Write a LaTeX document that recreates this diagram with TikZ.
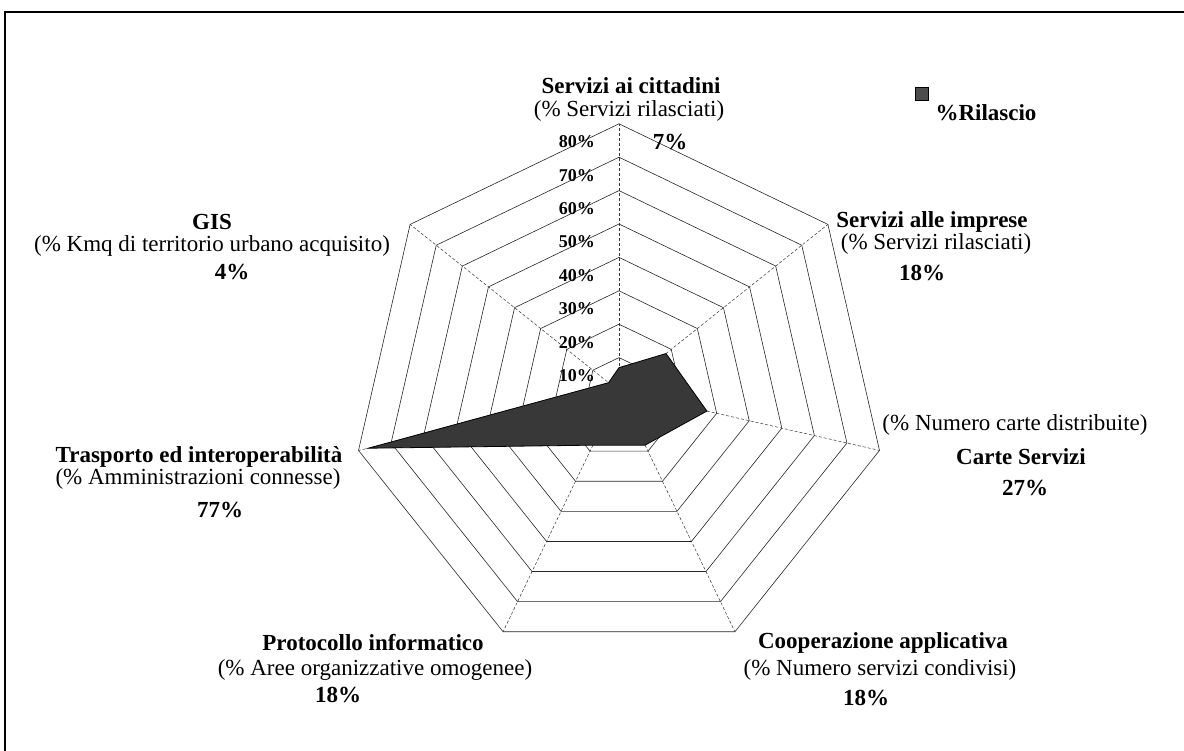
\documentclass[tikz,border=0pt]{standalone}
\usepackage{fontspec}
\setmainfont{Liberation Serif}

\begin{document}
\begin{tikzpicture}[x=1pt,y=1pt,
    ring/.style={line width=0.6pt,black!85},
    spoke/.style={line width=0.5pt,black!80,densely dashed},
    area/.style={draw=black,line width=0.8pt,fill=black!78},
    lab/.style={inner sep=0pt,font=\fontsize{23}{26}\selectfont},
    blab/.style={inner sep=0pt,font=\fontsize{23}{26}\selectfont\bfseries},
    tick/.style={inner sep=0pt,anchor=east,font=\fontsize{18}{20}\selectfont\bfseries}]
        % Frame
        \useasboundingbox (0,0) rectangle (1184,-751);
        \draw[line width=1.4pt] (5,-751) -- (5,-12) -- (1184,-12);
        \begin{scope}[shift={(619,-391)}]
          % Rings
          \foreach \r in {1,...,8} {
            \draw[ring] (90:\r*33.4) \foreach \k in {1,...,6} { -- (90-\k*360/7:\r*33.4) } -- cycle;
          }
          % Spokes
          \foreach \k in {0,...,6} {
            \draw[spoke] (0,0) -- (90-\k*360/7:267.2);
          }
          % Values
          \draw[area] (90:7*3.34) \foreach \v/\k in {18/1,27/2,18/3,18/4,77/5,4/6} { -- (90-\k*360/7:\v*3.34) } -- cycle;
          % Scale
          \foreach \r in {1,...,8} {
            \node[tick] (t\r) at (-24,\r*33.4-18) {\r0\%};
          }
        \end{scope}
        % Labels
        \node[blab] (cit) at (631,-86) {Servizi ai cittadini};
        \node[lab] (citsub) at (629,-111) {(\% Servizi rilasciati)};
        \node[blab] (citval) at (670,-142) {7\%};
        \node[blab] (imp) at (932,-222) {Servizi alle imprese};
        \node[lab] (impsub) at (936,-244) {(\% Servizi rilasciati)};
        \node[blab] (impval) at (922,-273) {18\%};
        \node[lab] (cartsub) at (1015,-425) {(\% Numero carte distribuite)};
        \node[blab] (cart) at (1021,-457) {Carte Servizi};
        \node[blab] (cartval) at (1025,-488) {27\%};
        \node[blab] (coop) at (883,-643) {Cooperazione applicativa};
        \node[lab] (coopsub) at (880,-670) {(\% Numero servizi condivisi)};
        \node[blab] (coopval) at (866,-698) {18\%};
        \node[blab] (prot) at (373,-643) {Protocollo informatico};
        \node[lab] (protsub) at (375,-670) {(\% Aree organizzative omogenee)};
        \node[blab] (protval) at (338,-695) {18\%};
        \node[blab] (tras) at (199,-457) {Trasporto ed interoperabilità};
        \node[lab] (trassub) at (198,-479) {(\% Amministrazioni connesse)};
        \node[blab] (trasval) at (220,-510) {77\%};
        \node[blab] (gis) at (212,-222) {GIS};
        \node[lab] (gissub) at (212,-246) {(\% Kmq di territorio urbano acquisito)};
        \node[blab] (gisval) at (232,-272) {4\%};
        % Legend
        \node[draw=black,fill=black!70,minimum size=13pt,inner sep=0pt] (legbox) at (922,-94) {};
        \node[blab] (legtxt) at (986,-113) {\%Rilascio};
    \end{tikzpicture}
\end{document}
